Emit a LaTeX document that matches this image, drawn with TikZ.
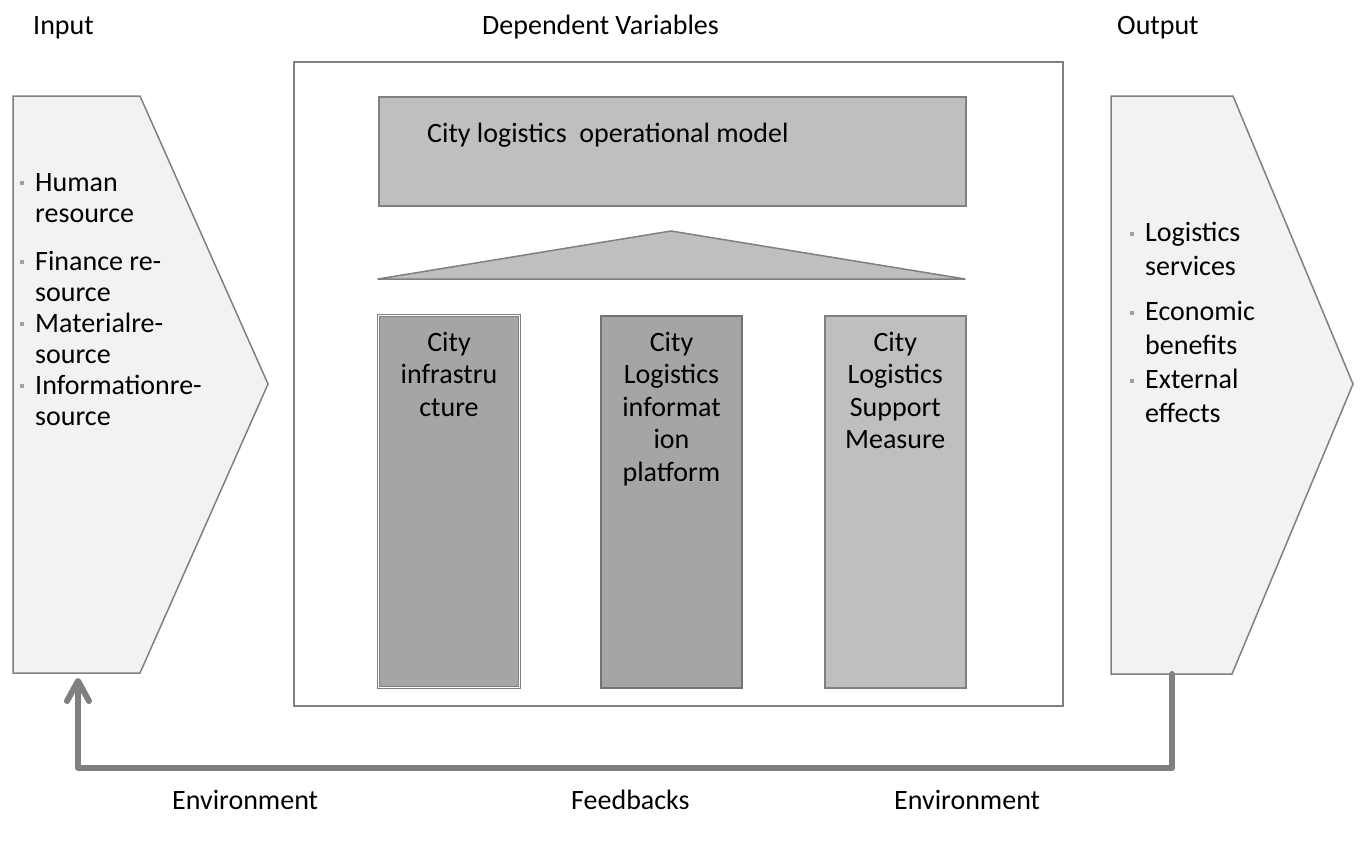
\documentclass[tikz,border=0pt]{standalone}
\usepackage{fontspec}
\setmainfont{Carlito}
\usetikzlibrary{arrows.meta,positioning}

\definecolor{linegray}{HTML}{808080}
\definecolor{chevfill}{HTML}{F2F2F2}
\definecolor{lightfill}{HTML}{BFBFBF}
\definecolor{darkfill}{HTML}{A5A5A5}
\definecolor{bulgray}{HTML}{A0A0A0}

% small square bullet hanging left of the item text
\newcommand{\bul}{\makebox[0pt][r]{\textcolor{bulgray}{\rule[6pt]{4pt}{4pt}}\hspace{11pt}}}

\begin{document}
\begin{tikzpicture}[x=1pt, y=-1pt, font=\fontsize{28}{32.5}\selectfont,
  every node/.style={inner sep=0pt},
  chevron/.style={draw=linegray, line width=1.5pt, fill=chevfill},
  pillar/.style={draw=linegray, line width=1.5pt, minimum width=141, minimum height=372, anchor=north west},
  pillartext/.style={align=center},
  feedback/.style={draw=linegray, line width=6pt, line cap=round, line join=round,
    -{Straight Barb[length=20pt, width=22pt, round]}}]

\useasboundingbox (0,0) rectangle (1362,841);

% input and output arrows
\draw[chevron] (13,96) -- (140,96) -- (268,384) -- (140,673) -- (13,673) -- cycle;
\draw[chevron] (1111,96) -- (1233,96) -- (1353,384) -- (1232,674) -- (1111,674) -- cycle;

\node (inlist) [anchor=north west, align=left,
  font=\fontsize{28}{31}\selectfont] at (35,173)
  {\bul Human\\resource\\[17pt]\bul Finance re-\\source\\\bul Materialre-\\source\\\bul Informationre-\\source};
\node (outlist) [anchor=north west, align=left,
  font=\fontsize{28}{34}\selectfont] at (1145,222)
  {\bul Logistics\\services\\[11pt]\bul Economic\\benefits\\\bul External\\effects};

% dependent variables frame
\node (depframe) [draw=linegray, line width=1.5pt, minimum width=769, minimum height=644, anchor=north west] at (293,61) {};

\node (opmodel) [draw=linegray, line width=1.5pt, fill=lightfill, minimum width=587, minimum height=109, anchor=north west] at (378,96) {};
\node (opmodeltext) [anchor=base west] at (427,142) {City logistics~~operational model};

\draw[draw=linegray, line width=1.5pt, fill=lightfill, line join=round] (378,279) -- (671,231) -- (965,279) -- cycle;

\node (infra) [pillar, fill=darkfill, double=white, double distance=1pt, line width=1pt] at (378,315) {};
\node (platform) [pillar, fill=darkfill, draw=linegray!90!black, line width=2pt] at (600,315) {};
\node (support) [pillar, fill=lightfill] at (824,315) {};

\node (infratext) [pillartext, below=17pt of infra.north] {City\\infrastru\\cture};
\node (platformtext) [pillartext, below=17pt of platform.north] {City\\Logistics\\informat\\ion\\platform};
\node (supporttext) [pillartext, below=17pt of support.north] {City\\Logistics\\Support\\Measure};

% headings
\node (input) [anchor=base west] at (33,34) {Input};
\node (depvars) [anchor=base west] at (482,34) {Dependent Variables};
\node (output) [anchor=base west] at (1117,34) {Output};

\node (envleft) [anchor=base west] at (172,809) {Environment};
\node (feedbacks) [anchor=base west] at (571,809) {Feedbacks};
\node (envright) [anchor=base west] at (894,809) {Environment};

% feedback loop
\coordinate (outfoot) at (1172,674);
\coordinate (infoot) at (78,678);
\draw[feedback] (outfoot) -- ++(0,94) -| (infoot);

\end{tikzpicture}
\end{document}
